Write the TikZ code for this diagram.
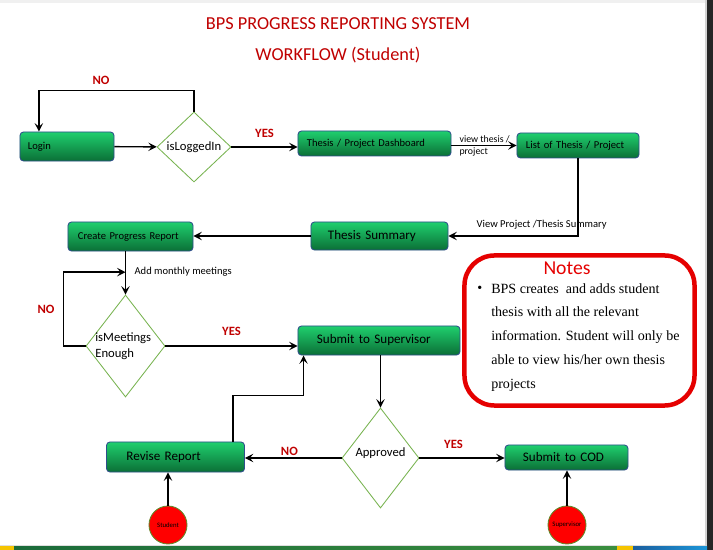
\documentclass[tikz,border=0pt]{standalone}
\usepackage{fontspec}
\setmainfont{Carlito}
\newfontfamily\notesfont{Liberation Serif}
\usetikzlibrary{arrows.meta}
\usetikzlibrary{shapes.geometric}

\definecolor{titlered}{HTML}{C00000}
\definecolor{boxtop}{HTML}{1FCF6E}
\definecolor{boxbottom}{HTML}{0B6F36}
\definecolor{boxedge}{HTML}{2F4E8C}
\definecolor{diamondedge}{HTML}{77B34F}
\definecolor{notesred}{HTML}{E50000}
\definecolor{actoredge}{HTML}{5E8C2A}
\definecolor{baryellow}{HTML}{F5C400}
\definecolor{bargreenA}{HTML}{1B6B3A}
\definecolor{bargreenB}{HTML}{9BC53D}
\definecolor{bargreenC}{HTML}{3A8E3E}
\definecolor{barblueA}{HTML}{1B5E9E}
\definecolor{barblueB}{HTML}{1C96D8}

\tikzset{
  flow/.style={line width=1pt, -{Stealth[length=6pt,width=6pt,inset=2.5pt]}},
  task/.style={draw=boxedge, line width=0.6pt, rounded corners=2.5pt, top color=boxtop, bottom color=boxbottom, align=left, inner ysep=0pt, text=black},
  smalltask/.style={task, font=\fontsize{7.5}{9}\selectfont},
  bigtask/.style={task, font=\fontsize{9.3}{11}\selectfont},
  decision/.style={diamond, draw=diamondedge, line width=0.6pt, fill=white, inner sep=0pt},
  dlabel/.style={font=\fontsize{9}{11.4}\selectfont},
  answer/.style={text=titlered, font=\bfseries\fontsize{9}{11}\selectfont, inner sep=1pt},
  remark/.style={font=\fontsize{7.5}{8.5}\selectfont, inner sep=1pt},
  actor/.style={circle, draw=actoredge, line width=0.6pt, fill=red, minimum size=0.95cm, inner sep=0pt, font=\fontsize{4.8}{5}\selectfont}
}

\begin{document}
\begin{tikzpicture}[x=0.025cm,y=-0.025cm]
\useasboundingbox (0,0) rectangle (713,550);
\fill[white] (0,0) rectangle (713,550);
\fill[gray!12] (0,0) rectangle (705,3);
\fill[gray!35] (705,0) rectangle (707,550);
\fill[black!85] (707,0) rectangle (713,550);
\fill[gray!25] (0,545) rectangle (705,546.5);
\fill[baryellow] (0,546.5) rectangle (14,550);
\shade[left color=bargreenA, middle color=bargreenB, right color=bargreenC] (14,546.5) rectangle (617,550);
\fill[baryellow] (617,546.5) rectangle (633,550);
\shade[left color=barblueA, right color=barblueB] (633,546.5) rectangle (707,550);

\node[text=titlered, font=\fontsize{13}{15}\selectfont] (title) at (338,24) {BPS PROGRESS REPORTING SYSTEM};
\node[text=titlered, font=\fontsize{13}{15}\selectfont] (subtitle) at (338,55) {WORKFLOW (Student)};

% top row
\node[smalltask, minimum height=0.725cm, text width=1.95cm, inner xsep=0.2cm] (login) at (67,146.5) {Login};
\node[decision, minimum width=1.85cm, minimum height=1.75cm, label={[dlabel]center:isLoggedIn}] (logged) at (194,147) {};
\node[smalltask, minimum height=0.625cm, text width=3.375cm, inner xsep=0.225cm] (dash) at (374.5,143.5) {Thesis / Project Dashboard};
\node[smalltask, minimum height=0.625cm, text width=2.6cm, inner xsep=0.225cm] (list) at (578,145.5) {List of Thesis / Project};

% middle
\node[bigtask, minimum height=0.7cm, text width=2.575cm, inner xsep=0.425cm] (summary) at (379.5,236) {Thesis Summary};
\node[smalltask, minimum height=0.725cm, text width=2.625cm, inner xsep=0.25cm] (create) at (130.5,236.5) {Create Progress Report};
\node[decision, minimum width=1.975cm, minimum height=2.55cm, label={[dlabel, align=left, anchor=west, xshift=0.12cm]west:isMeetings\\Enough}] (meet) at (125.5,346) {};
\node[bigtask, minimum height=0.725cm, text width=3.1cm, inner xsep=0.475cm] (submit) at (379,340.5) {Submit to Supervisor};

% bottom row
\node[decision, minimum width=1.925cm, minimum height=2.5cm, label={[dlabel, yshift=0.125cm]center:Approved}] (approved) at (380.5,458) {};
\node[bigtask, minimum height=0.75cm, text width=2.45cm, inner xsep=0.5cm] (revise) at (175.5,457) {Revise Report};
\node[bigtask, minimum height=0.625cm, text width=2.175cm, inner xsep=0.45cm] (cod) at (566.5,457.5) {Submit to COD};

\draw[flow] (login) -- (logged);
\draw[flow] (logged.north) -- ++(0,-21) -| node[answer, pos=0.3, above=3pt] (loginno) {NO} (login.152);
\draw[flow] (logged.east) -- node[answer, above=5pt] (loginyes) {YES} (logged.east -| dash.west);
\draw[flow] (list.west -| dash.east) -- node[remark, pos=0, anchor=west, align=left, xshift=0.15cm, font=\fontsize{7}{8.5}\selectfont] (viewlbl) {view thesis /\\project} (list.west);
\draw[flow] (list.south) |- node[remark, pos=0.64, above=3pt] (summarylbl) {View Project /Thesis Summary} (summary.east);
\draw[flow] (summary.west) -- (summary.west -| create.east);
\draw[flow] (meet.north |- create.south) -- coordinate[pos=0.48] (meetjoin) node[remark, pos=0.48, right=5pt] (monthlylbl) {Add monthly meetings} (meet.north);
\draw[flow] (meet.west) -- ++(-22,0) |- node[answer, pos=0.25, left=5pt] (meetno) {NO} (meetjoin);
\draw[flow] (meet.east) -- node[answer, above=6pt] (meetyes) {YES} (meet.east -| submit.west);
\draw[flow] (approved.north |- submit.south) -- (approved.north);
\draw[flow] (approved.west) -- node[answer, pos=0.54, above=0pt] (approvedno) {NO} (approved.west -| revise.east);
\draw[flow] (approved.east) -- node[answer, pos=0.4, above=5pt] (approvedyes) {YES} (approved.east -| cod.west);
\draw[flow] ([xshift=-0.3cm]revise.north east) -- ++(0,-46) -| ([xshift=0.15cm]submit.south west);

\foreach \who/\lbl/\x/\target in {student/Student/168/revise, supervisor/Supervisor/567/cod}{
  \node[actor] (\who) at (\x,525) {\lbl};
  \draw[flow] (\who) -- (\who |- \target.south);
}

% notes
\node[draw=notesred, line width=3.2pt, rounded corners=0.75cm, minimum width=5.75cm, minimum height=3.75cm, inner sep=0pt] (notes) at (579.5,330.5) {};
\node[text=notesred, font=\fontsize{14}{16}\selectfont] (notestitle) at (567,268) {Notes};
\node[anchor=base west, inner sep=0pt, font=\notesfont\fontsize{10}{17}\selectfont] (bullet) at (477,293) {\textbullet};
\node[anchor=north west, inner sep=0pt, align=left, font=\notesfont\fontsize{10}{17}\selectfont] (notestext) at (491,283) {BPS creates~ and adds student\\thesis with all the relevant\\information. Student will only be\\able to view his/her own thesis\\projects};
\end{tikzpicture}
\end{document}
